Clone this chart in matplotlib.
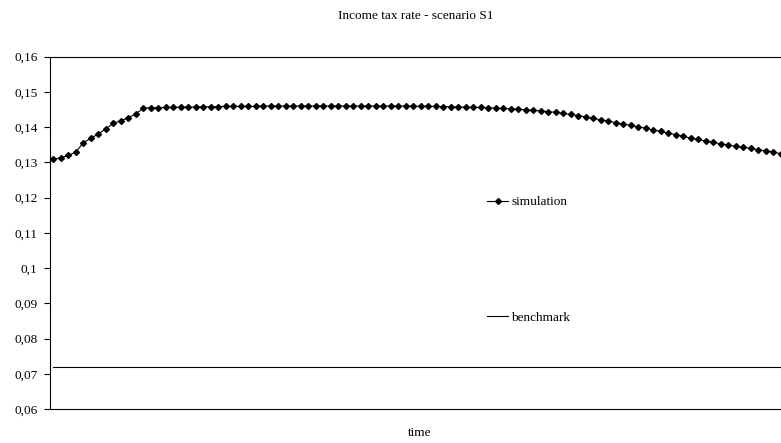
import matplotlib.pyplot as plt
import numpy as np
from matplotlib.ticker import FuncFormatter, MultipleLocator

plt.rcParams['font.family'] = ['Liberation Serif', 'DejaVu Serif']
plt.rcParams['font.size'] = 9.5

# income tax rate path, scenario S1
simulation = [
    0.1309, 0.1313, 0.1320, 0.1329, 0.1356, 0.1368, 0.1381, 0.1395, 0.1411, 0.1418,
    0.1427, 0.1437, 0.1454,
    0.1455, 0.1455, 0.1456, 0.1456, 0.1457, 0.1457, 0.1457, 0.1458, 0.1458, 0.1458,
    0.1459, 0.1459,
    0.1459, 0.1459, 0.1459, 0.1460, 0.1460, 0.1460, 0.1460, 0.1460, 0.1460, 0.1460,
    0.1460, 0.1460, 0.1460, 0.1460, 0.1460, 0.1460, 0.1460, 0.1460, 0.1460, 0.1460,
    0.1460, 0.1460, 0.1460, 0.1460,
    0.1459, 0.1459, 0.1459, 0.1458, 0.1458, 0.1457, 0.1457, 0.1456,
    0.1456, 0.1455, 0.1454, 0.1453, 0.1452, 0.1451, 0.1449, 0.1448, 0.1446, 0.1444,
    0.1442, 0.1439, 0.1436, 0.1433, 0.1429, 0.1425, 0.1421,
    0.1417, 0.1413, 0.1409, 0.1405, 0.1401, 0.1397, 0.1392,
    0.1388, 0.1383, 0.1379, 0.1374, 0.1369, 0.1365,
    0.1361, 0.1357, 0.1353, 0.1349, 0.1346, 0.1343, 0.1340,
    0.1336, 0.1333, 0.1329, 0.1325,
]
benchmark_rate = 0.072
benchmark = [benchmark_rate] * len(simulation)
periods = np.arange(len(simulation))

fig = plt.figure(figsize=(7.81, 4.43), dpi=100)
ax = fig.add_axes([50 / 781, 1 - 409 / 443, 1 - 50 / 781, (409 - 56.7) / 443])

ax.plot(periods, simulation, color="black", linewidth=0.8, marker="D",
        markersize=3.0, label="simulation")
ax.plot(periods, benchmark, color="black", linewidth=0.8, label="benchmark")

ax.set_xlim(-0.44, 97.05)
ax.set_ylim(0.06, 0.16)
ax.yaxis.set_major_locator(MultipleLocator(0.01))
ax.yaxis.set_major_formatter(
    FuncFormatter(lambda v, pos: f"{round(v, 4):g}".replace(".", ",")))
ax.tick_params(axis="y", length=4, width=0.8, pad=5, labelsize=9.5)
ax.set_xticks([])
ax.spines["right"].set_visible(False)
for s in ["left", "top", "bottom"]:
    ax.spines[s].set_linewidth(0.8)

fig.text(416 / 781, 1 - 16 / 443, "Income tax rate - scenario S1",
         ha="center", va="center", fontsize=9.5)
fig.text(420 / 781, 1 - 433 / 443, "time", ha="center", va="center", fontsize=9.5)

fig.legend(loc="center left", bbox_to_anchor=(487 / 781, 1 - 260 / 443),
           frameon=False, borderpad=0, borderaxespad=0, handlelength=1.6,
           handletextpad=0.25, labelspacing=7.85, fontsize=9.5)

plt.savefig("out.png", dpi=100)
